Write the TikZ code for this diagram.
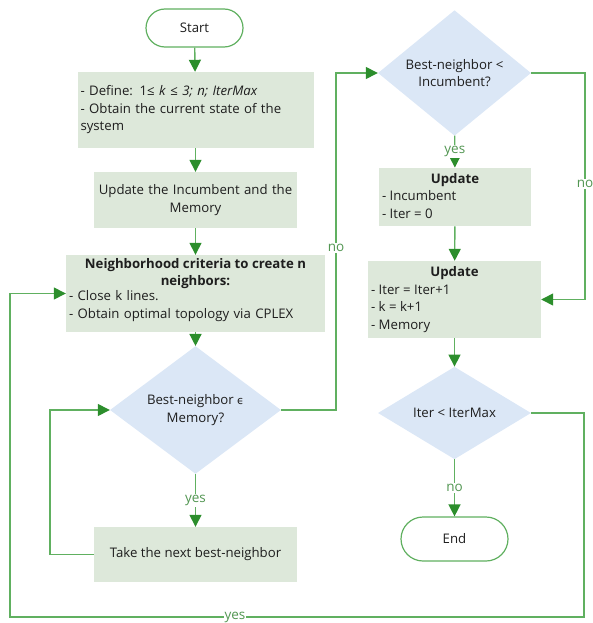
\documentclass[tikz,border=0pt]{standalone}
\usepackage{fontspec}
\setmainfont{Open Sans}
\newfontfamily\dvfont{DejaVu Sans}
\usetikzlibrary{shapes.geometric,arrows.meta}
\definecolor{lg}{RGB}{96,176,96}
\definecolor{ag}{RGB}{44,142,44}
\definecolor{boxf}{RGB}{221,232,218}
\definecolor{dia}{RGB}{219,231,246}
\definecolor{txt}{RGB}{30,30,30}
\newcommand{\headline}[2]{\makebox[#1][c]{\bfseries #2}}
\begin{document}
\begin{tikzpicture}[x=1pt,y=-1pt,
  font=\fontsize{13.2}{17.5}\selectfont,
  box/.style={rectangle, fill=boxf, inner sep=3pt, text=txt},
  dec/.style={diamond, fill=dia, inner sep=0pt, text=txt, align=center},
  term/.style={rectangle, draw=lg, line width=1.2pt, fill=white, text=txt},
  link/.style={draw=lg, line width=1.4pt, -{Triangle[length=12pt,width=12pt,color=ag]}},
  lbl/.style={fill=white, text=lg!85!black, inner sep=1pt, font=\fontsize{13.5}{15}\selectfont},
  head/.style={label={[anchor=north, inner sep=3pt, align=center, text=txt, font=\fontsize{13.2}{17.5}\selectfont\bfseries, label distance=0pt]north:#1}}]
\useasboundingbox (0,0) rectangle (592,623);

\node[term, rounded corners=19pt, minimum width=97, minimum height=38] (start) at (194.5,28) {Start};
\node[box, minimum width=235, minimum height=76, text width=230pt, align=left] (b1) at (195.5,110)
  {- Define: 1≤ \textit{k} ≤ \textit{3; n; IterMax}\\- Obtain the current state of the\\system};
\node[box, minimum width=203, minimum height=56, text width=197pt, align=center] (b2) at (195.5,200)
  {Update the Incumbent and the\\Memory};
\node[box, minimum width=259, minimum height=77, text width=253pt, align=left,
      head={Neighborhood criteria to create n\\neighbors:}] (b3) at (195.5,293.5)
  {\mbox{}\\\mbox{}\\- Close k lines.\\- Obtain optimal topology via CPLEX};
\node[dec, minimum width=171, minimum height=103] (d1) at (195.5,410)
  {Best-neighbor {\dvfont\fontsize{11}{17.5}\selectfont ϵ}\\Memory?};
\node[box, minimum width=203, minimum height=55, align=center] (b4) at (195.5,554.5)
  {Take the next best-neighbor};

\node[dec, minimum width=153, minimum height=91] (d2) at (454.5,73)
  {Best-neighbor <\\Incumbent?};
\node[box, minimum width=152, minimum height=56] (b5) at (455,197)
  {\begin{tabular}{@{}l@{}}\headline{146pt}{Update}\\- Incumbent\\- Iter = 0\end{tabular}};
\node[box, minimum width=173, minimum height=77] (b6) at (454.5,299.5)
  {\begin{tabular}{@{}l@{}}\headline{167pt}{Update}\\- Iter = Iter+1\\- k = k+1\\- Memory\end{tabular}};
\node[dec, minimum width=153, minimum height=92] (d3) at (454.5,413)
  {Iter < IterMax};
\node[term, rounded corners=22pt, minimum width=107, minimum height=44] (end) at (454.5,539) {End};

\coordinate (c1) at (50,554.5);
\coordinate (c2) at (50,410);
\coordinate (c3) at (336,410);
\coordinate (c4) at (336,73);
\coordinate (c5) at (585,73);
\coordinate (c6) at (585,299.5);
\coordinate (c7) at (584,413);
\coordinate (c8) at (584,617);
\coordinate (c9) at (10,617);
\coordinate (c10) at (10,293.5);

\draw[link] (start) -- (b1);
\draw[link] (b1) -- (b2);
\draw[link] (b2) -- (b3);
\draw[link] (b3) -- (d1);
\draw[link] (d1) -- node[lbl]{yes} (b4);
\draw[link] (b4.west) -- (c1) -- (c2) -- (d1.west);
\draw[link] (d1.east) -- (c3) -- node[lbl, pos=0.48]{no} (c4) -- (d2.west);
\draw[link] (d2) -- node[lbl]{yes} (b5);
\draw[link] (b5) -- (b6);
\draw[link] (d2.east) -- (c5) -- node[lbl, pos=0.49]{no} (c6) -- (b6.east);
\draw[link] (b6) -- (d3);
\draw[link] (d3) -- node[lbl]{no} (end);
\draw[link] (d3.east) -- (c7) -- (c8) -- node[lbl, pos=0.608]{yes} (c9) -- (c10) -- (b3.west);
\end{tikzpicture}
\end{document}
